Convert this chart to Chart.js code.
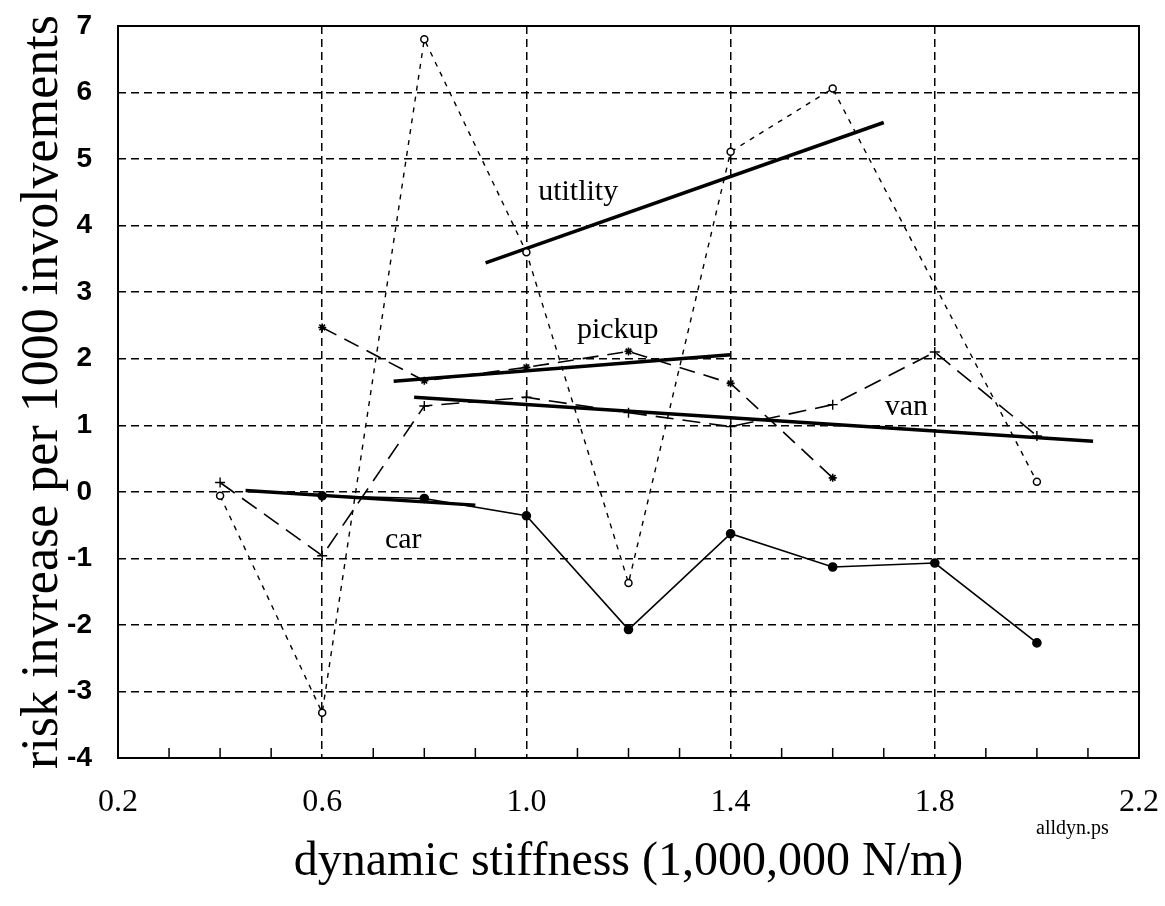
<!DOCTYPE html>
<html>
<head>
<meta charset="utf-8">
<script src="https://cdn.jsdelivr.net/npm/chart.js@4.4.0/dist/chart.umd.min.js"></script>
<style>
  html, body { margin: 0; padding: 0; background: #fff; }
</style>
</head>
<body>
<canvas id="chart" width="1165" height="906"></canvas>
<script>
// Axis ticks
const xTickValues = [0.2, 0.6, 1.0, 1.4, 1.8, 2.2];
const xTickLabels = ['0.2', '0.6', '1.0', '1.4', '1.8', '2.2'];
const yTickValues = [-4, -3, -2, -1, 0, 1, 2, 3, 4, 5, 6, 7];
const yTickLabels = ['-4', '-3', '-2', '-1', '0', '1', '2', '3', '4', '5', '6', '7'];
const xMinorTicks = [0.3, 0.4, 0.5, 0.7, 0.8, 0.9, 1.1, 1.2, 1.3, 1.5, 1.6, 1.7, 1.9, 2.0, 2.1];

// Measured risk per vehicle class
const utilityX = [0.4, 0.6, 0.8, 1.0, 1.2, 1.4, 1.6, 2.0];
const utilityY = [-0.06, -3.32, 6.8, 3.6, -1.37, 5.11, 6.06, 0.15];
const pickupX = [0.6, 0.8, 1.0, 1.2, 1.4, 1.6];
const pickupY = [2.47, 1.67, 1.87, 2.11, 1.63, 0.21];
const vanX = [0.4, 0.6, 0.8, 1.0, 1.2, 1.4, 1.6, 1.8, 2.0];
const vanY = [0.14, -0.96, 1.29, 1.42, 1.19, 0.98, 1.31, 2.1, 0.84];
const carX = [0.6, 0.8, 1.0, 1.2, 1.4, 1.6, 1.8, 2.0];
const carY = [-0.06, -0.1, -0.36, -2.07, -0.63, -1.13, -1.07, -2.27];

// Fitted trend lines (end points)
const utilityFitX = [0.92, 1.7];
const utilityFitY = [3.44, 5.55];
const pickupFitX = [0.74, 1.4];
const pickupFitY = [1.66, 2.06];
const vanFitX = [0.78, 2.11];
const vanFitY = [1.42, 0.76];
const carFitX = [0.45, 0.9];
const carFitY = [0.02, -0.2];

// Curve labels
const labelText = ['utitlity', 'pickup', 'van', 'car'];
const labelX = [1.023, 1.099, 1.702, 0.723];
const labelY = [4.39, 2.31, 1.16, -0.84];

function pts(xs, ys) {
  return xs.map((x, i) => ({ x: x, y: ys[i] }));
}

function fitLine(xs, ys) {
  return {
    data: pts(xs, ys),
    showLine: true,
    borderColor: '#000',
    borderWidth: 3.5,
    pointRadius: 0,
    borderCapStyle: 'butt'
  };
}

// Frame, minor ticks and text labels
const extras = {
  id: 'extras',
  afterDatasetsDraw(chart) {
    const ctx = chart.ctx;
    const a = chart.chartArea;
    const xs = chart.scales.x;
    const ys = chart.scales.y;
    ctx.save();
    ctx.strokeStyle = '#000';
    ctx.lineWidth = 2;
    ctx.setLineDash([]);
    ctx.strokeRect(a.left, a.top, a.right - a.left, a.bottom - a.top);

    ctx.lineWidth = 1.5;
    xMinorTicks.forEach(v => {
      const px = xs.getPixelForValue(v);
      ctx.beginPath();
      ctx.moveTo(px, a.bottom);
      ctx.lineTo(px, a.bottom - 10);
      ctx.stroke();
    });

    ctx.fillStyle = '#000';
    ctx.font = '30px "Liberation Serif"';
    ctx.textAlign = 'left';
    ctx.textBaseline = 'alphabetic';
    labelText.forEach((t, i) => {
      ctx.fillText(t, xs.getPixelForValue(labelX[i]), ys.getPixelForValue(labelY[i]));
    });

    ctx.font = '20px "Liberation Serif"';
    ctx.fillText('alldyn.ps', 1036, 834);
    ctx.restore();
  }
};

new Chart(document.getElementById('chart'), {
  type: 'scatter',
  data: {
    datasets: [
      {
        data: pts(utilityX, utilityY),
        showLine: true,
        borderColor: '#000',
        borderWidth: 1.4,
        borderDash: [5, 6],
        pointStyle: 'circle',
        pointRadius: 3.5,
        pointBackgroundColor: '#fff',
        pointBorderColor: '#000',
        pointBorderWidth: 1.5
      },
      {
        data: pts(pickupX, pickupY),
        showLine: true,
        borderColor: '#000',
        borderWidth: 1.6,
        borderDash: [16, 9],
        pointStyle: 'star',
        pointRadius: 4,
        pointBorderColor: '#000',
        pointBorderWidth: 1.6
      },
      {
        data: pts(vanX, vanY),
        showLine: true,
        borderColor: '#000',
        borderWidth: 1.6,
        borderDash: [18, 9],
        pointStyle: 'cross',
        pointRadius: 5,
        pointBorderColor: '#000',
        pointBorderWidth: 1.4
      },
      {
        data: pts(carX, carY),
        showLine: true,
        borderColor: '#000',
        borderWidth: 1.6,
        pointStyle: 'circle',
        pointRadius: 4,
        pointBackgroundColor: '#000',
        pointBorderColor: '#000'
      },
      fitLine(utilityFitX, utilityFitY),
      fitLine(pickupFitX, pickupFitY),
      fitLine(vanFitX, vanFitY),
      fitLine(carFitX, carFitY)
    ]
  },
  options: {
    responsive: false,
    devicePixelRatio: 1,
    animation: false,
    layout: { padding: { left: 0, right: 26, top: 26, bottom: 0 } },
    plugins: {
      legend: { display: false },
      tooltip: { enabled: false }
    },
    scales: {
      x: {
        type: 'linear',
        min: 0.2,
        max: 2.2,
        afterBuildTicks: (s) => { s.ticks = xTickValues.map(v => ({ value: v })); },
        afterFit: (s) => { s.height = 148; },
        border: { display: false, dash: [8, 5] },
        grid: {
          drawTicks: true,
          tickLength: 29,
          tickColor: 'rgba(0,0,0,0)',
          lineWidth: 1.5,
          color: (c) => (c.index === 0 || c.index === xTickValues.length - 1) ? 'rgba(0,0,0,0)' : '#000'
        },
        ticks: {
          padding: 0,
          color: '#000',
          font: { family: '"Liberation Serif"', size: 32, lineHeight: 1 },
          callback: (v, i) => xTickLabels[i]
        },
        title: {
          display: true,
          text: 'dynamic stiffness (1,000,000 N/m)',
          color: '#000',
          font: { family: '"Liberation Serif"', size: 48, lineHeight: 1 },
          padding: { top: 0, bottom: 20 }
        }
      },
      y: {
        type: 'linear',
        min: -4,
        max: 7,
        afterBuildTicks: (s) => { s.ticks = yTickValues.map(v => ({ value: v })); },
        afterFit: (s) => { s.width = 118; },
        border: { display: false, dash: [8, 5] },
        grid: {
          drawTicks: true,
          tickLength: 26,
          tickColor: 'rgba(0,0,0,0)',
          lineWidth: 1.5,
          color: (c) => (c.index === 0 || c.index === yTickValues.length - 1) ? 'rgba(0,0,0,0)' : '#000'
        },
        ticks: {
          padding: 0,
          color: '#000',
          font: { family: '"Liberation Sans"', size: 28, weight: 'bold', lineHeight: 1 },
          callback: (v, i) => yTickLabels[i]
        },
        title: {
          display: true,
          text: 'risk invrease per 1000 involvements',
          color: '#000',
          font: { family: '"Liberation Serif"', size: 52, lineHeight: 1 },
          padding: { top: 17, bottom: 0 }
        }
      }
    }
  },
  plugins: [extras]
});
</script>
</body>
</html>
